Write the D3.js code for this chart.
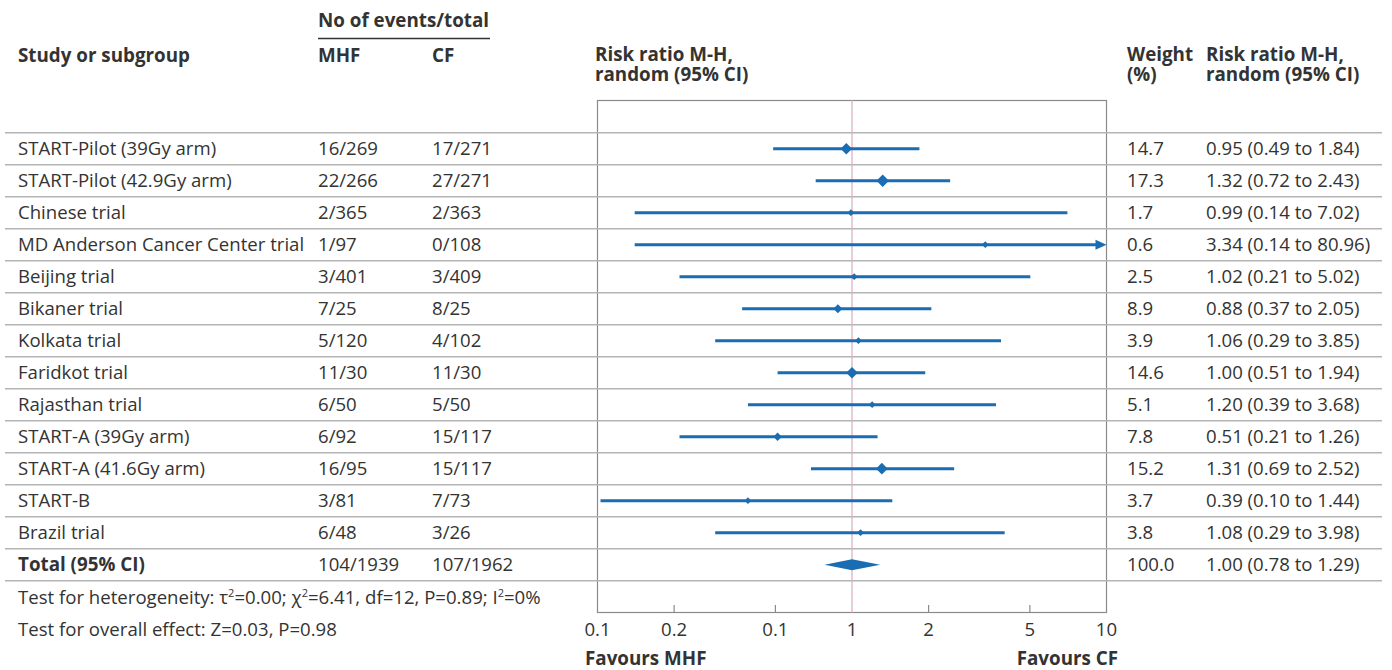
<!DOCTYPE html>
<html>
<head>
<meta charset="utf-8">
<script src="https://cdn.jsdelivr.net/npm/d3@7"></script>
<style>
  body { margin: 0; background: #fff; }
  svg text { font-family: "Open Sans", sans-serif; fill: #333; }
</style>
</head>
<body>
<div id="chart"></div>
<script>
// data
const studies = ["START-Pilot (39Gy arm)", "START-Pilot (42.9Gy arm)", "Chinese trial",
  "MD Anderson Cancer Center trial", "Beijing trial", "Bikaner trial", "Kolkata trial",
  "Faridkot trial", "Rajasthan trial", "START-A (39Gy arm)", "START-A (41.6Gy arm)",
  "START-B", "Brazil trial"];
const mhf = ["16/269", "22/266", "2/365", "1/97", "3/401", "7/25", "5/120", "11/30", "6/50", "6/92", "16/95", "3/81", "6/48"];
const cf = ["17/271", "27/271", "2/363", "0/108", "3/409", "8/25", "4/102", "11/30", "5/50", "15/117", "15/117", "7/73", "3/26"];
const weights = [14.7, 17.3, 1.7, 0.6, 2.5, 8.9, 3.9, 14.6, 5.1, 7.8, 15.2, 3.7, 3.8];
const rr = [0.95, 1.32, 0.99, 3.34, 1.02, 0.88, 1.06, 1.00, 1.20, 0.51, 1.31, 0.39, 1.08];
const lo = [0.49, 0.72, 0.14, 0.14, 0.21, 0.37, 0.29, 0.51, 0.39, 0.21, 0.69, 0.10, 0.29];
const hi = [1.84, 2.43, 7.02, 80.96, 5.02, 2.05, 3.85, 1.94, 3.68, 1.26, 2.52, 1.44, 3.98];
const total = { label: "Total (95% CI)", mhf: "104/1939", cf: "107/1962", weight: 100.0, rr: 1.00, lo: 0.78, hi: 1.29 };
const tickVals = [0.1, 0.2, 0.5, 1, 2, 5, 10];
const tickLabels = ["0.1", "0.2", "0.1", "1", "2", "5", "10"];

const W = 1392, H = 670;
const blue = "#1a6db3";
const fs = 18.6;   // body text
const hs = 18.8;   // bold headers

const svg = d3.select("#chart").append("svg")
  .attr("width", W).attr("height", H);

const x = d3.scaleLog().domain([0.1, 10]).range([597.5, 1106.5]);
const y = d3.scaleBand().domain(d3.range(studies.length + 1)).range([132.7, 580.7]);
const rowY = i => y(i) + y.bandwidth() / 2;

const col = { study: 18, mhf: 318, cf: 432, weight: 1127, ci: 1206 };
const fmt = d3.format(".2f");
const ciText = (r, l, h) => `${fmt(r)} (${fmt(l)} to ${fmt(h)})`;

// header
const hdr = svg.append("g").attr("font-weight", "bold").attr("font-size", hs);
hdr.append("text").attr("x", col.mhf).attr("y", 27).text("No of events/total");
svg.append("line").attr("x1", col.mhf).attr("x2", 490).attr("y1", 38.5).attr("y2", 38.5)
  .attr("stroke", "#333").attr("stroke-width", 1.5);
hdr.append("text").attr("x", col.study).attr("y", 62).text("Study or subgroup");
hdr.append("text").attr("x", col.mhf).attr("y", 62).text("MHF");
hdr.append("text").attr("x", col.cf).attr("y", 62).text("CF");
hdr.append("text").attr("x", 595).attr("y", 61).text("Risk ratio M-H,");
hdr.append("text").attr("x", 595).attr("y", 81).text("random (95% CI)");
hdr.append("text").attr("x", col.weight).attr("y", 61).text("Weight");
hdr.append("text").attr("x", col.weight).attr("y", 81).text("(%)");
hdr.append("text").attr("x", col.ci).attr("y", 61).text("Risk ratio M-H,");
hdr.append("text").attr("x", col.ci).attr("y", 81).text("random (95% CI)");

// plot frame
svg.append("rect").attr("x", x(0.1)).attr("y", 100.5)
  .attr("width", x(10) - x(0.1)).attr("height", 612.5 - 100.5)
  .attr("fill", "none").attr("stroke", "#8a8a8a").attr("stroke-width", 1.2);

// row separators
svg.append("g").selectAll("line")
  .data(d3.range(studies.length + 2))
  .join("line")
  .attr("x1", 5).attr("x2", 1382)
  .attr("y1", i => 132.7 + i * y.step()).attr("y2", i => 132.7 + i * y.step())
  .attr("stroke", "#b4b4b4").attr("stroke-width", 1.5);

// no-effect line
svg.append("line").attr("x1", x(1)).attr("x2", x(1)).attr("y1", 100.5).attr("y2", 612.5)
  .attr("stroke", "#f4a3a6").attr("stroke-width", 1.2);
svg.append("line").attr("x1", x(1) + 0.5).attr("x2", x(1) + 0.5).attr("y1", 100.5).attr("y2", 612.5)
  .attr("stroke", "#bcd6f0").attr("stroke-width", 0.8).attr("stroke-dasharray", "3,5");

// axis ticks (inside the frame, going up)
svg.append("g").selectAll("line")
  .data(tickVals.filter(v => v !== 0.1 && v !== 10 && v !== 1))
  .join("line")
  .attr("x1", d => x(d)).attr("x2", d => x(d))
  .attr("y1", 612.5).attr("y2", 605)
  .attr("stroke", "#8a8a8a").attr("stroke-width", 1.2);
svg.append("g").selectAll("text")
  .data(tickVals)
  .join("text")
  .attr("x", d => x(d)).attr("y", 636)
  .attr("text-anchor", "middle").attr("font-size", fs)
  .text((d, i) => tickLabels[i]);

svg.append("text").attr("x", 585).attr("y", 664.5).attr("font-weight", "bold").attr("font-size", hs)
  .text("Favours MHF");
svg.append("text").attr("x", 1118).attr("y", 664.5).attr("text-anchor", "end")
  .attr("font-weight", "bold").attr("font-size", hs).text("Favours CF");

// study rows
const rows = svg.append("g").selectAll("g")
  .data(studies.map((s, i) => ({ s, i })))
  .join("g");

rows.append("text").attr("x", col.study).attr("y", d => rowY(d.i) + 6.5).attr("font-size", fs).text(d => d.s);
rows.append("text").attr("x", col.mhf).attr("y", d => rowY(d.i) + 6.5).attr("font-size", fs).text(d => mhf[d.i]);
rows.append("text").attr("x", col.cf).attr("y", d => rowY(d.i) + 6.5).attr("font-size", fs).text(d => cf[d.i]);
rows.append("text").attr("x", col.weight).attr("y", d => rowY(d.i) + 6.5).attr("font-size", fs).text(d => weights[d.i].toFixed(1));
rows.append("text").attr("x", col.ci).attr("y", d => rowY(d.i) + 6.5).attr("font-size", fs)
  .text(d => ciText(rr[d.i], lo[d.i], hi[d.i]));

const clampX = v => x(Math.max(0.1, Math.min(10, v)));
rows.append("line")
  .attr("x1", d => clampX(lo[d.i]) + (lo[d.i] <= 0.1 ? 3 : 0))
  .attr("x2", d => hi[d.i] > 10 ? x(10) - 10 : clampX(hi[d.i]))
  .attr("y1", d => rowY(d.i)).attr("y2", d => rowY(d.i))
  .attr("stroke", blue).attr("stroke-width", 3);

// arrow for CI beyond the axis
rows.filter(d => hi[d.i] > 10).append("path")
  .attr("d", d => {
    const yy = rowY(d.i), xe = x(10);
    return `M${xe},${yy} L${xe - 11},${yy - 5} L${xe - 11},${yy + 5} Z`;
  })
  .attr("fill", blue);

const half = w => Math.max(3.4, Math.sqrt(w) * 1.5);
rows.append("path")
  .attr("d", d => {
    const cx = x(rr[d.i]), cy = rowY(d.i), r = half(weights[d.i]);
    return `M${cx - r},${cy} L${cx},${cy - r} L${cx + r},${cy} L${cx},${cy + r} Z`;
  })
  .attr("fill", blue);

// total row
const ti = studies.length;
const ty = rowY(ti);
const tot = svg.append("g").attr("font-size", fs);
tot.append("text").attr("x", col.study).attr("y", ty + 6.5).attr("font-weight", "bold").attr("font-size", hs).text(total.label);
tot.append("text").attr("x", col.mhf).attr("y", ty + 6.5).text(total.mhf);
tot.append("text").attr("x", col.cf).attr("y", ty + 6.5).text(total.cf);
tot.append("text").attr("x", col.weight).attr("y", ty + 6.5).text(total.weight.toFixed(1));
tot.append("text").attr("x", col.ci).attr("y", ty + 6.5).text(ciText(total.rr, total.lo, total.hi));
svg.append("path")
  .attr("d", `M${x(total.lo)},${ty} L${x(total.rr)},${ty - 5.5} L${x(total.hi)},${ty} L${x(total.rr)},${ty + 5.5} Z`)
  .attr("fill", blue);

// footnotes
const foot = svg.append("g").attr("font-size", fs);
const het = foot.append("text").attr("x", col.study).attr("y", 603.5);
het.append("tspan").text("Test for heterogeneity: τ");
het.append("tspan").attr("font-size", 11).attr("dy", -7).text("2");
het.append("tspan").attr("dy", 7).text("=0.00; χ");
het.append("tspan").attr("font-size", 11).attr("dy", -7).text("2");
het.append("tspan").attr("dy", 7).text("=6.41, df=12, P=0.89; I");
het.append("tspan").attr("font-size", 11).attr("dy", -7).text("2");
het.append("tspan").attr("dy", 7).text("=0%");
foot.append("text").attr("x", col.study).attr("y", 635.5).text("Test for overall effect: Z=0.03, P=0.98");
</script>
</body>
</html>
